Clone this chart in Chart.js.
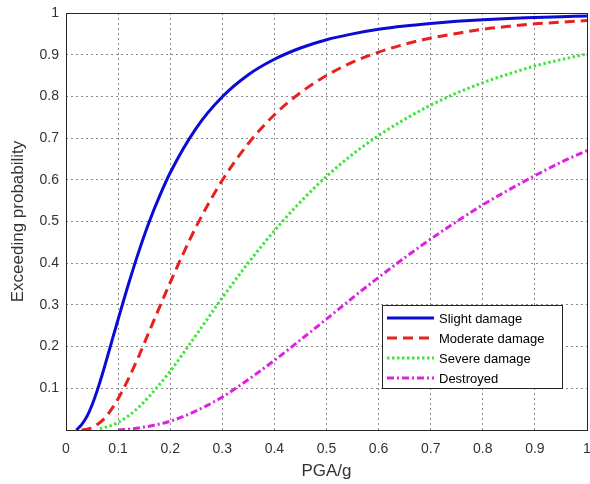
<!DOCTYPE html>
<html>
<head>
<meta charset="utf-8">
<script src="https://cdn.jsdelivr.net/npm/chart.js@4"></script>
<style>
  html, body { margin: 0; padding: 0; background: #fff; overflow: hidden; }
  #wrap { width: 590px; height: 484px; }
</style>
</head>
<body>
<div id="wrap"><canvas id="chartFragility" width="590" height="484"></canvas></div>
<script>
// PGA (g) and exceeding probability
const slightX = [0.02, 0.03, 0.04, 0.05, 0.06, 0.07, 0.08, 0.09, 0.1, 0.12, 0.14, 0.16, 0.18, 0.2, 0.25, 0.3, 0.35, 0.4, 0.45, 0.5, 0.55, 0.6, 0.65, 0.7, 0.75, 0.8, 0.85, 0.9, 0.95, 1.0];
const slightY = [0, 0.013, 0.032, 0.06, 0.095, 0.135, 0.178, 0.222, 0.265, 0.35, 0.429, 0.5, 0.562, 0.617, 0.724, 0.799, 0.852, 0.889, 0.916, 0.936, 0.95, 0.961, 0.969, 0.975, 0.98, 0.984, 0.987, 0.989, 0.991, 0.993];

const moderateX = [0.03, 0.04, 0.05, 0.06, 0.07, 0.08, 0.09, 0.1, 0.12, 0.14, 0.16, 0.18, 0.2, 0.25, 0.3, 0.35, 0.4, 0.45, 0.5, 0.55, 0.6, 0.65, 0.7, 0.75, 0.8, 0.85, 0.9, 0.95, 1.0];
const moderateY = [0, 0.002, 0.006, 0.013, 0.023, 0.037, 0.055, 0.075, 0.123, 0.178, 0.237, 0.296, 0.354, 0.488, 0.599, 0.687, 0.756, 0.809, 0.85, 0.882, 0.906, 0.925, 0.94, 0.951, 0.961, 0.968, 0.974, 0.978, 0.982];

const severeX = [0.065, 0.08, 0.1, 0.12, 0.14, 0.16, 0.18, 0.2, 0.25, 0.3, 0.35, 0.4, 0.45, 0.5, 0.55, 0.6, 0.65, 0.7, 0.75, 0.8, 0.85, 0.9, 0.95, 1.0];
const severeY = [0.003, 0.008, 0.018, 0.034, 0.055, 0.081, 0.11, 0.141, 0.228, 0.317, 0.401, 0.478, 0.547, 0.608, 0.661, 0.706, 0.745, 0.779, 0.808, 0.833, 0.854, 0.873, 0.888, 0.902];

const destroyedX = [0.1, 0.12, 0.15, 0.2, 0.25, 0.3, 0.35, 0.4, 0.45, 0.5, 0.55, 0.6, 0.65, 0.7, 0.75, 0.8, 0.85, 0.9, 0.95, 1.0];
const destroyedY = [0, 0.002, 0.007, 0.021, 0.046, 0.079, 0.121, 0.167, 0.216, 0.266, 0.317, 0.366, 0.413, 0.458, 0.5, 0.54, 0.576, 0.61, 0.642, 0.67];

const tickFont = { family: 'Liberation Sans, Arial, sans-serif', size: 14 };
const titleFont = { family: 'Liberation Sans, Arial, sans-serif', size: 17 };

function pts(xs, ys) {
  return xs.map((x, i) => ({ x: x, y: ys[i] }));
}

function fmt(v) {
  return Number(v.toFixed(1)).toString();
}

// MATLAB style box round the axes plus the legend inside the plot
const boxAndLegend = {
  id: 'boxAndLegend',
  afterDraw(chart) {
    const { ctx, chartArea: a } = chart;
    ctx.save();
    ctx.strokeStyle = '#262626';
    ctx.lineWidth = 1;
    ctx.setLineDash([]);
    ctx.strokeRect(Math.round(a.left) + 0.5, Math.round(a.top) + 0.5,
      Math.round(a.right - a.left), Math.round(a.bottom - a.top));

    // legend
    const lx = 382.5, ly = 305.5, lw = 180, lh = 83;
    ctx.fillStyle = '#fff';
    ctx.fillRect(lx, ly, lw, lh);
    ctx.strokeRect(lx, ly, lw, lh);
    ctx.font = '13px Liberation Sans, Arial, sans-serif';
    ctx.textBaseline = 'middle';
    chart.data.datasets.forEach((ds, i) => {
      const y = 318 + i * 20;
      ctx.beginPath();
      ctx.strokeStyle = ds.borderColor;
      ctx.lineWidth = ds.borderWidth;
      ctx.setLineDash(ds.borderDash || []);
      ctx.moveTo(387, y);
      ctx.lineTo(434, y);
      ctx.stroke();
      ctx.setLineDash([]);
      ctx.fillStyle = '#000';
      ctx.fillText(ds.label, 439, y + 1);
    });
    ctx.restore();
  }
};

new Chart(document.getElementById('chartFragility'), {
  type: 'line',
  data: {
    datasets: [{
      label: 'Slight damage',
      data: pts(slightX, slightY),
      borderColor: '#0b0bd6',
      borderWidth: 3
    }, {
      label: 'Moderate damage',
      data: pts(moderateX, moderateY),
      borderColor: '#e8201e',
      borderWidth: 3,
      borderDash: [10, 6]
    }, {
      label: 'Severe damage',
      data: pts(severeX, severeY),
      borderColor: '#3ee63e',
      borderWidth: 3,
      borderDash: [2.5, 2.5]
    }, {
      label: 'Destroyed',
      data: pts(destroyedX, destroyedY),
      borderColor: '#e020e0',
      borderWidth: 3,
      borderDash: [7, 3, 2, 3]
    }]
  },
  options: {
    responsive: false,
    animation: false,
    layout: { padding: { top: 13, right: 3, left: 0, bottom: 0 } },
    elements: {
      point: { radius: 0 },
      line: { cubicInterpolationMode: 'monotone', fill: false, borderCapStyle: 'butt' }
    },
    plugins: {
      legend: { display: false },
      tooltip: { enabled: false }
    },
    scales: {
      x: {
        type: 'linear',
        min: 0,
        max: 1,
        ticks: { stepSize: 0.1, font: tickFont, color: '#333', padding: 11, maxRotation: 0, callback: fmt },
        grid: { color: '#8c8c8c', lineWidth: 1, drawTicks: false },
        border: { display: false, dash: [2, 3] },
        title: { display: true, text: 'PGA/g', font: titleFont, color: '#333', padding: { top: 0, bottom: 2 } },
        afterFit(s) { s.height = 54; s.paddingLeft = 0; s.paddingRight = 0; }
      },
      y: {
        min: 0,
        max: 1,
        ticks: {
          stepSize: 0.1, font: tickFont, color: '#333', padding: 7,
          callback: v => (v === 0 ? '' : fmt(v))
        },
        grid: { color: '#8c8c8c', lineWidth: 1, drawTicks: false },
        border: { display: false, dash: [2, 3] },
        title: { display: true, text: 'Exceeding probability', font: titleFont, color: '#333', padding: { top: 8, bottom: 0 } },
        afterFit(s) { s.width = 66; s.paddingTop = 0; s.paddingBottom = 0; }
      }
    }
  },
  plugins: [boxAndLegend]
});
</script>
</body>
</html>
